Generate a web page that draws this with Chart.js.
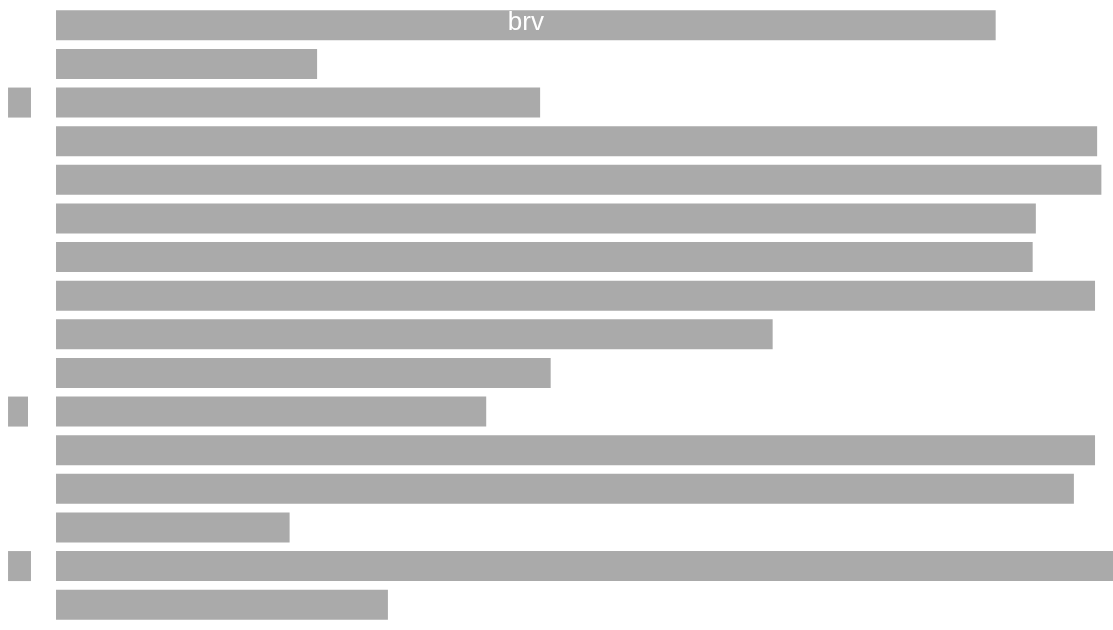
<!DOCTYPE html>
<html>
<head>
<meta charset="utf-8">
<title>brv</title>
<script src="https://cdn.jsdelivr.net/npm/chart.js@4/dist/chart.umd.min.js"></script>
<style>
    html, body { margin: 0; padding: 0; background: #ffffff; }
    #wrap { width: 1113px; height: 630px; }
</style>
</head>
<body>
<div id="wrap"><canvas id="barChart" width="1113" height="630"></canvas></div>
<script>
// ── Data ──────────────────────────────────────────────────────
const categories = ['r1', 'r2', 'r3', 'r4', 'r5', 'r6', 'r7', 'r8',
                    'r9', 'r10', 'r11', 'r12', 'r13', 'r14', 'r15', 'r16'];
const barValues  = [88.9, 24.7, 45.8, 98.5, 98.9, 92.7, 92.4, 98.3,
                    67.8, 46.8, 40.7, 98.3, 96.3, 22.1, 100, 31.4];
const barLabels  = ['brv', '', '', '', '', '', '', '',
                    '', '', '', '', '', '', '', ''];
// small markers to the left of the axis (start, end)
const markStart  = [null, null, -4.54, null, null, null, null, null,
                    null, null, -4.54, null, null, null, -4.54, null];
const markEnd    = [null, null, -2.37, null, null, null, null, null,
                    null, null, -2.65, null, null, null, -2.37, null];

const GREY = '#aaaaaa';

// ── Label plugin ──────────────────────────────────────────────
const barText = {
    id: 'barText',
    afterDatasetsDraw(chart) {
        const ctx  = chart.ctx;
        const meta = chart.getDatasetMeta(0);
        ctx.save();
        ctx.fillStyle = '#ffffff';
        ctx.font = '26px "Liberation Sans", Arial, sans-serif';
        ctx.textAlign = 'center';
        ctx.textBaseline = 'middle';
        meta.data.forEach((bar, i) => {
            if (!barLabels[i]) return;
            const { x, base, y } = bar.getProps(['x', 'base', 'y'], true);
            ctx.fillText(barLabels[i], (x + base) / 2, y - 2);
        });
        ctx.restore();
    }
};

// ── Chart ─────────────────────────────────────────────────────
const marks = markStart.map((s, i) => (s === null ? null : [s, markEnd[i]]));

new Chart(document.getElementById('barChart'), {
    type: 'bar',
    data: {
        labels: categories,
        datasets: [
            {
                data: barValues,
                backgroundColor: GREY,
                borderWidth: 0,
                grouped: false,
                categoryPercentage: 1,
                barPercentage: 0.777,
            },
            {
                data: marks,
                backgroundColor: GREY,
                borderWidth: 0,
                grouped: false,
                categoryPercentage: 1,
                barPercentage: 0.777,
            }
        ]
    },
    options: {
        indexAxis: 'y',
        responsive: false,
        animation: false,
        devicePixelRatio: 1,
        layout: { padding: { top: 6, bottom: 6, left: 0, right: 0 } },
        plugins: {
            legend: { display: false },
            tooltip: { enabled: false }
        },
        scales: {
            x: { display: false, min: -5.3, max: 100 },
            y: { display: false }
        }
    },
    plugins: [barText]
});
</script>
</body>
</html>
